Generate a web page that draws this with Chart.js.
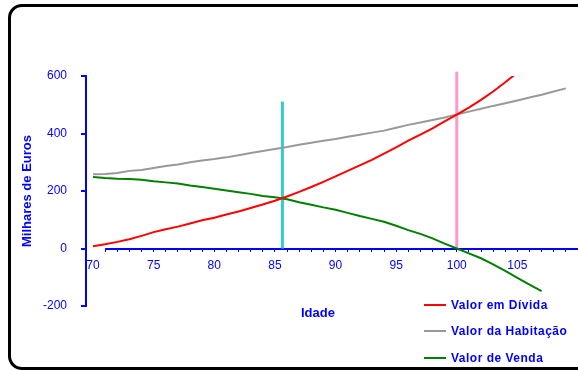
<!DOCTYPE html>
<html>
<head>
<meta charset="utf-8">
<script src="https://cdn.jsdelivr.net/npm/chart.js@4/dist/chart.umd.min.js"></script>
<style>
  html, body { margin: 0; padding: 0; background: #fff; }
  #wrap { position: relative; width: 578px; height: 370px; overflow: hidden; background: #fff; font-family: "Liberation Sans", Arial, sans-serif; }
  #frame { position: absolute; left: 8px; top: 4px; width: 700px; height: 360px; border: 3px solid #000; border-radius: 14px; }
  #c { position: absolute; left: 0; top: 0; }
  #xtitle { position: absolute; left: 301px; top: 306px; font: bold 13px "Liberation Sans", Arial, sans-serif; line-height: 13px; color: #0000ff; }
  .lg { position: absolute; left: 424px; height: 14px; line-height: 14px; font: bold 12px "Liberation Sans", Arial, sans-serif; letter-spacing: 0.5px; color: #0000ff; white-space: nowrap; }
  .lg .sw { position: absolute; left: 0; top: 6px; width: 22px; height: 2px; }
  .lg .tx { position: absolute; left: 27px; top: 0; line-height: 14px; }
</style>
</head>
<body>
<div id="wrap">
  <div id="frame"></div>
  <canvas id="c" width="578" height="370"></canvas>
  <div id="xtitle"></div>
  <div id="legend"></div>
</div>
<script>
// ---- data ----
const ages = [70,71,72,73,74,75,76,77,78,79,80,81,82,83,84,85,86,87,88,89,90,91,92,93,94,95,96,97,98,99,100,101,102,103,104,105,106,107,108,109];
const debtValues = [8,15,23,32,44,57,67,76,87,98,107,118,129,141,153,166,181,197,214,232,251,270,289,308,330,352,375,396,418,442,466,490,517,546,578,612,648];
const homeValues = [258,259,263,270,273,280,287,292,300,306,311,317,324,332,339,346,353,361,368,375,381,389,396,403,410,420,430,438,447,456,466,476,486,496,505,515,525,535,546,557];
const saleValues = [249,245,243,242,239,234,230,226,219,214,208,202,196,190,183,178,171,161,152,143,135,124,113,103,93,79,64,51,35,17,0,-17,-34,-55,-78,-102,-126,-148];
const seriesNames = ['Valor em Dívida', 'Valor da Habitação', 'Valor de Venda'];
const seriesColors = ['#ff0000', '#999999', '#008000'];
const markerAges = [85.62, 100];
const markerTops = [511, 615];
const markerColors = ['#33cccc', '#ff99cc'];
const yTickValues = [-200, 0, 200, 400, 600];
const xLabelValues = [70, 75, 80, 85, 90, 95, 100, 105];
const yTitle = 'Milhares de Euros';
const xTitle = 'Idade';

// ---- build ----
const BLUE = '#0000ff';
const FONT = '"Liberation Sans", Arial, sans-serif';
function pts(vals) { return vals.map((v, i) => ({ x: ages[i], y: v })); }

const datasets = [debtValues, homeValues, saleValues].map((vals, i) => ({
  label: seriesNames[i],
  data: pts(vals),
  borderColor: seriesColors[i],
  borderWidth: 2,
  pointRadius: 0,
  tension: 0,
  fill: false
}));
markerAges.forEach((a, i) => {
  datasets.push({
    label: 'marker' + i,
    data: [{ x: a, y: 0 }, { x: a, y: markerTops[i] }],
    borderColor: markerColors[i],
    borderWidth: 3,
    pointRadius: 0,
    fill: false,
    clip: false
  });
});

const xAxisLine = {
  id: 'xAxisLine',
  beforeDatasetsDraw(chart) {
    const ctx = chart.ctx, x = chart.scales.x, y = chart.scales.y;
    const py = Math.round(y.getPixelForValue(0));
    ctx.save();
    ctx.strokeStyle = BLUE;
    ctx.lineWidth = 2;
    ctx.beginPath();
    ctx.moveTo(x.getPixelForValue(71), py);
    ctx.lineTo(chart.width, py);
    ctx.stroke();
    ctx.restore();
  }
};

new Chart(document.getElementById('c'), {
  type: 'line',
  data: { datasets },
  plugins: [xAxisLine],
  options: {
    responsive: false,
    animation: false,
    devicePixelRatio: 1,
    layout: { padding: { top: 76, bottom: 64, left: 0, right: 0 } },
    plugins: { legend: { display: false }, tooltip: { enabled: false } },
    font: { family: FONT },
    scales: {
      x: {
        type: 'linear',
        axis: 'x',
        position: { y: 0 },
        min: 69.42,
        max: 110,
        border: { display: false },
        afterFit: s => { s.paddingLeft = 0; s.paddingRight = 0; },
        grid: {
          drawOnChartArea: false,
          drawTicks: true,
          tickLength: 3,
          lineWidth: 1,
          color: ctx => (ctx.tick && ctx.tick.value >= 71 ? BLUE : 'rgba(0,0,0,0)')
        },
        afterBuildTicks: s => {
          const t = [];
          for (let v = 70; v <= 110; v++) t.push({ value: v });
          s.ticks = t;
        },
        ticks: {
          autoSkip: false,
          maxRotation: 0,
          padding: 7,
          color: BLUE,
          font: { family: FONT, size: 12 },
          callback: v => (xLabelValues.includes(v) ? String(v) : '')
        }
      },
      y: {
        type: 'linear',
        position: 'left',
        min: -200,
        max: 600,
        afterFit: s => { s.width = 86; },
        afterBuildTicks: s => { s.ticks = yTickValues.map(v => ({ value: v })); },
        border: { display: true, color: BLUE, width: 2 },
        grid: { drawOnChartArea: false, drawTicks: true, tickLength: 5, color: BLUE, lineWidth: 2 },
        ticks: { color: BLUE, padding: 14, font: { family: FONT, size: 12 } },
        title: {
          display: true,
          text: yTitle,
          color: BLUE,
          font: { family: FONT, size: 13, weight: 'bold' },
          padding: { top: 20, bottom: 0 }
        }
      }
    }
  }
});

document.getElementById('xtitle').textContent = xTitle;
const lg = document.getElementById('legend');
const rowCenters = [305, 331, 358];
seriesNames.forEach((n, i) => {
  const d = document.createElement('div');
  d.className = 'lg';
  d.style.top = (rowCenters[i] - 7) + 'px';
  d.innerHTML = '<div class="sw" style="background:' + seriesColors[i] + '"></div><div class="tx"></div>';
  d.querySelector('.tx').textContent = n;
  lg.appendChild(d);
});
</script>
</body>
</html>
